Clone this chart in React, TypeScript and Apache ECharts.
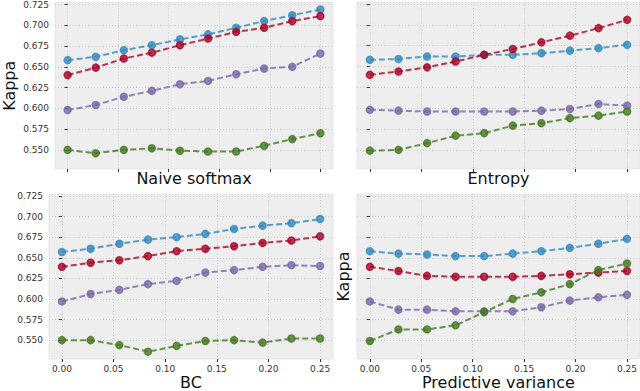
import React, { useEffect, useRef } from "react";
import * as echarts from "echarts";

const X = [0, 0.0278, 0.0556, 0.0833, 0.1111, 0.1389, 0.1667, 0.1944, 0.2222, 0.25];
const X_TICKS = [0, 0.05, 0.1, 0.15, 0.2, 0.25];
const Y_TICKS = [0.55, 0.575, 0.6, 0.625, 0.65, 0.675, 0.7, 0.725];

const PANEL_TITLES = ["Naive softmax", "Entropy", "BC", "Predictive variance"];
const SERIES_NAMES = ["Blue", "Red", "Purple", "Green"];
const COLORS = ["52,138,189", "166,6,40", "122,104,166", "70,120,33"];

const naiveBlue = [0.658, 0.662, 0.670, 0.676, 0.683, 0.689, 0.697, 0.705, 0.712, 0.719];
const naiveRed = [0.640, 0.649, 0.660, 0.667, 0.676, 0.684, 0.692, 0.697, 0.705, 0.711];
const naivePurple = [0.598, 0.604, 0.614, 0.621, 0.629, 0.633, 0.641, 0.648, 0.650, 0.666];
const naiveGreen = [0.550, 0.546, 0.550, 0.552, 0.549, 0.548, 0.548, 0.555, 0.563, 0.570];

const entropyBlue = [0.658, 0.659, 0.662, 0.662, 0.664, 0.664, 0.666, 0.669, 0.672, 0.676];
const entropyRed = [0.640, 0.644, 0.649, 0.656, 0.664, 0.671, 0.679, 0.687, 0.696, 0.706];
const entropyPurple = [0.598, 0.597, 0.596, 0.596, 0.596, 0.596, 0.597, 0.599, 0.605, 0.603];
const entropyGreen = [0.549, 0.550, 0.558, 0.567, 0.570, 0.579, 0.582, 0.588, 0.591, 0.596];

const bcBlue = [0.657, 0.661, 0.667, 0.672, 0.675, 0.679, 0.685, 0.689, 0.692, 0.697];
const bcRed = [0.639, 0.644, 0.647, 0.652, 0.658, 0.661, 0.664, 0.668, 0.671, 0.676];
const bcPurple = [0.597, 0.606, 0.611, 0.618, 0.622, 0.632, 0.635, 0.639, 0.641, 0.640];
const bcGreen = [0.550, 0.550, 0.544, 0.536, 0.543, 0.549, 0.550, 0.547, 0.552, 0.552];

const pvBlue = [0.658, 0.655, 0.654, 0.652, 0.652, 0.655, 0.658, 0.662, 0.667, 0.673];
const pvRed = [0.639, 0.634, 0.628, 0.627, 0.627, 0.627, 0.628, 0.630, 0.632, 0.634];
const pvPurple = [0.597, 0.587, 0.587, 0.585, 0.585, 0.585, 0.590, 0.598, 0.602, 0.605];
const pvGreen = [0.549, 0.563, 0.563, 0.568, 0.584, 0.600, 0.608, 0.618, 0.635, 0.643];

const PANELS = [
  [naiveBlue, naiveRed, naivePurple, naiveGreen],
  [entropyBlue, entropyRed, entropyPurple, entropyGreen],
  [bcBlue, bcRed, bcPurple, bcGreen],
  [pvBlue, pvRed, pvPurple, pvGreen],
];

const FONT = "DejaVu Sans";

export default function App() {
  const ref = useRef<HTMLDivElement>(null);
  useEffect(() => {
    if (!ref.current) return;
    const chart = echarts.init(ref.current, null, { renderer: "svg" });
    const grids = [
      { left: 49, top: 2, width: 284, height: 167 },
      { left: 357, top: 2, width: 283, height: 167 },
      { left: 49, top: 194, width: 284, height: 167 },
      { left: 357, top: 194, width: 283, height: 167 },
    ].map((g) => ({
      ...g,
      show: true,
      backgroundColor: "#eeeeee",
      borderColor: "#d4d4d4",
      borderWidth: 0.5,
      containLabel: false,
    }));

    const xAxes = PANEL_TITLES.map((title, i) => ({
      type: "value",
      gridIndex: i,
      min: -0.0125,
      max: 0.2625,
      name: title,
      nameLocation: "middle",
      nameGap: i >= 2 ? 14 : 1,
      nameTextStyle: { fontFamily: FONT, fontSize: 16, color: "#111" },
      axisLine: { show: false },
      axisTick: { show: true, length: 3, lineStyle: { color: "#333", width: 1 }, customValues: X_TICKS },
      axisLabel: {
        show: i >= 2,
        customValues: X_TICKS,
        margin: 5,
        fontFamily: FONT,
        fontSize: 9,
        color: "#333",
        formatter: (v: number) => v.toFixed(2),
      },
      splitLine: { show: true, lineStyle: { color: "#c4c4c4", width: 0.8, type: [1, 2] } },
    }));

    const yAxes = PANEL_TITLES.map((_, i) => ({
      type: "value",
      gridIndex: i,
      min: 0.527,
      max: 0.7274,
      name: i === 0 || i === 3 ? "Kappa" : "",
      nameLocation: "middle",
      nameGap: i === 0 ? 38 : 6,
      nameTextStyle: { fontFamily: FONT, fontSize: 16, color: "#111" },
      axisLine: { show: false },
      axisTick: { show: true, length: 3, lineStyle: { color: "#333", width: 1 }, customValues: Y_TICKS },
      axisLabel: {
        show: i % 2 === 0,
        customValues: Y_TICKS,
        margin: 6,
        fontFamily: FONT,
        fontSize: 9,
        color: "#333",
        formatter: (v: number) => v.toFixed(3),
      },
      splitLine: { show: true, lineStyle: { color: "#c4c4c4", width: 0.8, type: [1, 2] } },
    }));

    const series: any[] = [];
    PANELS.forEach((panel, gi) => {
      panel.forEach((vals, si) => {
        const c = `rgba(${COLORS[si]},0.8)`;
        series.push({
          type: "line",
          name: SERIES_NAMES[si],
          xAxisIndex: gi,
          yAxisIndex: gi,
          data: X.map((x, k) => [x, vals[k]]),
          symbol: "circle",
          symbolSize: 7,
          lineStyle: { color: c, width: 2, type: [6, 3] },
          itemStyle: { color: c, borderColor: c, borderWidth: 1.5 },
          z: 2 + si,
        });
      });
    });

    chart.setOption({
      animation: false,
      grid: grids,
      xAxis: xAxes,
      yAxis: yAxes,
      series,
    });
    return () => chart.dispose();
  }, []);
  return (
    <div
      ref={ref}
      style={{ position: "absolute", left: 0, top: 0, width: 640, height: 391, background: "#fff" }}
    />
  );
}
